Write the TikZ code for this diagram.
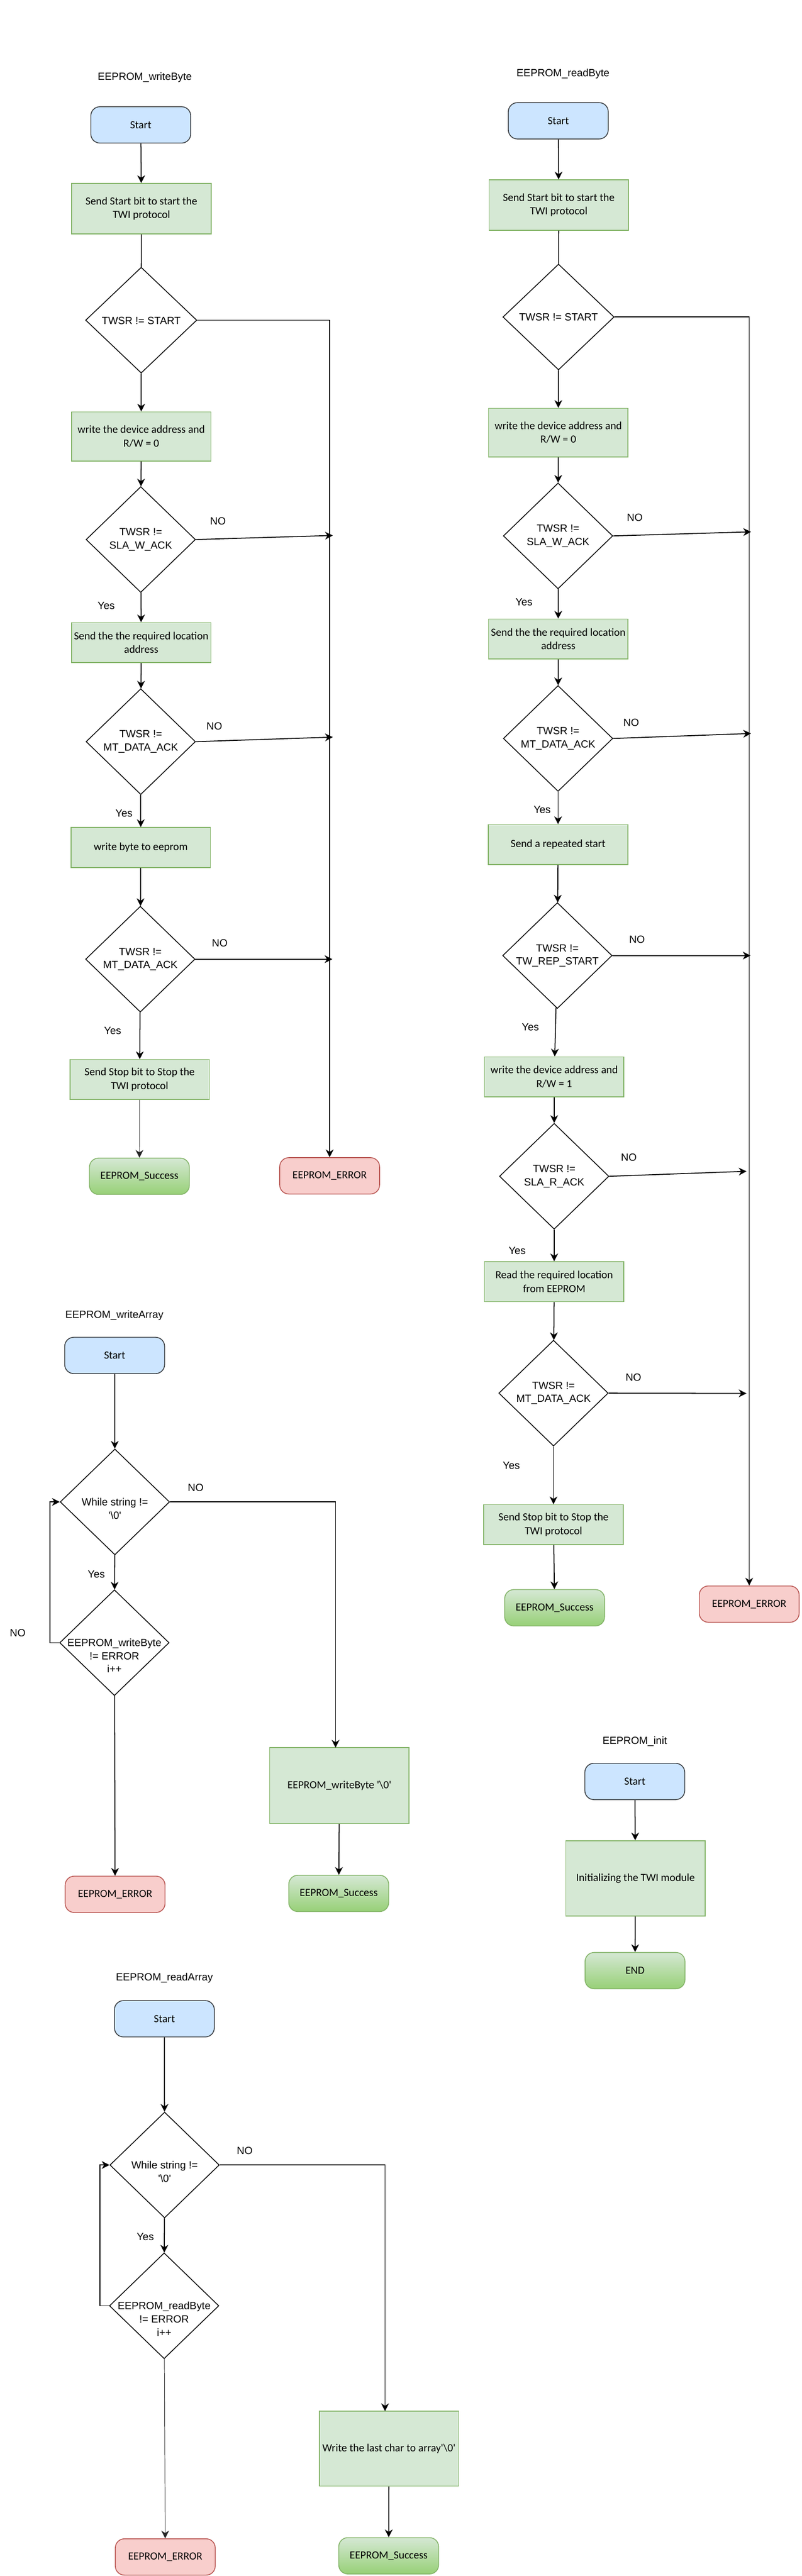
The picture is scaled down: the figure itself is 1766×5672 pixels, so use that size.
\documentclass[tikz,border=0pt]{standalone}
\usepackage{fontspec}
\setmainfont{Liberation Sans}
\newfontfamily\boxfont{Carlito}
\usetikzlibrary{shapes.geometric,arrows.meta}
\definecolor{startfill}{HTML}{CCE5FF}
\definecolor{startdraw}{HTML}{36393D}
\definecolor{procfill}{HTML}{D5E8D4}
\definecolor{procdraw}{HTML}{82B366}
\definecolor{oktop}{HTML}{D5E8D4}
\definecolor{okbot}{HTML}{97D077}
\definecolor{errfill}{HTML}{F8CECC}
\definecolor{errdraw}{HTML}{B85450}
\tikzset{
  term/.style={rounded corners=10pt, minimum width=110pt, minimum height=40pt, inner sep=0pt, line width=0.9pt, font=\boxfont\fontsize{12}{15}\selectfont},
  startT/.style={term, fill=startfill, draw=startdraw},
  okT/.style={term, top color=oktop, bottom color=okbot, draw=procdraw},
  errT/.style={term, fill=errfill, draw=errdraw},
  proc/.style={rectangle, draw=procdraw, fill=procfill, line width=0.9pt, minimum width=153.5pt, minimum height=44pt, inner sep=0pt, align=center, font=\boxfont\fontsize{12}{15}\selectfont},
  dec/.style={diamond, draw=black, line width=0.9pt, minimum width=120.5pt, minimum height=116.5pt, inner sep=0pt},
  lbl/.style={font=\fontsize{11.5}{15}\selectfont, align=center, inner sep=0pt},
  dlbl/.style={font=\fontsize{11.5}{14.5}\selectfont, align=center, inner sep=0pt},
  ln/.style={line width=1pt, draw=black},
  arr/.style={ln, -{Stealth[length=8.5pt,width=8.5pt,inset=2.6pt]}},
  tarr/.style={line width=0.55pt, draw=black!85, -{Stealth[length=8.5pt,width=8.5pt,inset=2.6pt]}},
}
\begin{document}
\begin{tikzpicture}[x=0.5pt,y=-0.5pt]
\path[use as bounding box, fill=white] (0,0) rectangle (1766,5672);

% ================= EEPROM_writeByte =================
\node[lbl] (wbT) at (319,170) {EEPROM\_writeByte};
\node[startT] (wbS) at (310,275) {Start};
\node[proc, minimum height=55.5pt] (wb1) at (311.5,459.5) {Send Start bit to start the\\TWI protocol};
\node[dec, minimum width=122.5pt] (wbd1) at (311,705) {};
\node[dlbl] (wbd1t) at (311,706) {TWSR != START};
\node[proc, minimum height=54pt] (wb2) at (311,961) {write the device address and\\R/W = 0};
\node[dec] (wbd2) at (310,1188) {};
\node[dlbl] (wbd2t) at (310,1188) {TWSR !=\\SLA\_W\_ACK};
\node[proc] (wb3) at (311,1415) {Send the the required location\\address};
\node[dec] (wbd3) at (310,1633) {};
\node[dlbl] (wbd3t) at (310,1633) {TWSR !=\\MT\_DATA\_ACK};
\node[proc] (wb4) at (310,1866) {write byte to eeprom};
\node[dec] (wbd4) at (309,2112) {};
\node[dlbl] (wbd4t) at (309,2112) {TWSR !=\\MT\_DATA\_ACK};
\node[proc] (wb5) at (307.5,2377) {Send Stop bit to Stop the\\TWI protocol};
\node[okT] (wbok) at (307,2590) {EEPROM\_Success};
\node[errT] (wberr) at (726,2589) {EEPROM\_ERROR};

\node[lbl] (wbn2) at (480,1147) {NO};
\node[lbl] (wbn3) at (472,1599) {NO};
\node[lbl] (wbn4) at (484,2077) {NO};
\node[lbl] (wby2) at (234,1334) {Yes};
\node[lbl] (wby3) at (273,1791) {Yes};
\node[lbl] (wby4) at (248,2269) {Yes};

\coordinate (wbe2) at (733,1179);
\coordinate (wbe3) at (733,1623);
\coordinate (wbe4) at (732,2112);

\draw[arr] (wbS) -- (wb1);
\draw[ln] (wb1) -- (wbd1);
\draw[arr] (wbd1) -- (wb2);
\draw[arr] (wb2) -- (wbd2);
\draw[arr] (wbd2) -- (wb3);
\draw[arr] (wb3) -- (wbd3);
\draw[arr] (wbd3) -- (wb4);
\draw[arr] (wb4) -- (wbd4);
\draw[arr] (wbd4) -- (wb5);
\draw[tarr] (wb5) -- (wbok);
\draw[arr] (wbd1.east) -| (wberr.north);
\draw[arr] (wbd2.east) -- (wbe2);
\draw[arr] (wbd3.east) -- (wbe3);
\draw[arr] (wbd4.east) -- (wbe4);

% ================= EEPROM_readByte =================
\node[lbl] (rbT) at (1240,162) {EEPROM\_readByte};
\node[startT] (rbS) at (1229.5,266) {Start};
\node[proc, minimum height=55.5pt] (rb1) at (1230.5,451.5) {Send Start bit to start the\\TWI protocol};
\node[dec, minimum width=122.5pt] (rbd1) at (1230,698) {};
\node[dlbl] (rbd1t) at (1230,698) {TWSR != START};
\node[proc, minimum height=53.5pt] (rb2) at (1229.5,952.5) {write the device address and\\R/W = 0};
\node[dec] (rbd2) at (1229,1180) {};
\node[dlbl] (rbd2t) at (1229,1180) {TWSR !=\\SLA\_W\_ACK};
\node[proc] (rb3) at (1229.5,1407) {Send the the required location\\address};
\node[dec] (rbd3) at (1229,1626) {};
\node[dlbl] (rbd3t) at (1229,1626) {TWSR !=\\MT\_DATA\_ACK};
\node[proc] (rb4) at (1229,1859.5) {Send a repeated start};
\node[dec] (rbd4) at (1227.5,2104) {};
\node[dlbl] (rbd4t) at (1227.5,2104) {TWSR !=\\TW\_REP\_START};
\node[proc] (rb5) at (1220.5,2371) {write the device address and\\R/W = 1};
\node[dec] (rbd5) at (1220.5,2590) {};
\node[dlbl] (rbd5t) at (1220.5,2590) {TWSR !=\\SLA\_R\_ACK};
\node[proc] (rb6) at (1220.5,2822) {Read the required location\\from EEPROM};
\node[dec] (rbd6) at (1219,3067.5) {};
\node[dlbl] (rbd6t) at (1219,3067.5) {TWSR !=\\MT\_DATA\_ACK};
\node[proc] (rb7) at (1219,3357) {Send Stop bit to Stop the\\TWI protocol};
\node[okT] (rbok) at (1221.5,3540) {EEPROM\_Success};
\node[errT] (rberr) at (1650,3532) {EEPROM\_ERROR};

\node[lbl] (rbn2) at (1398,1140) {NO};
\node[lbl] (rbn3) at (1390,1591) {NO};
\node[lbl] (rbn4) at (1403,2069) {NO};
\node[lbl] (rbn5) at (1385,2548) {NO};
\node[lbl] (rbn6) at (1395,3033) {NO};
\node[lbl] (rby2) at (1154,1326) {Yes};
\node[lbl] (rby3) at (1194,1783) {Yes};
\node[lbl] (rby4) at (1168,2262) {Yes};
\node[lbl] (rby5) at (1139,2754) {Yes};
\node[lbl] (rby6) at (1126,3227) {Yes};

\coordinate (rbe2) at (1654,1171);
\coordinate (rbe3) at (1654,1615);
\coordinate (rbe4) at (1653,2104);
\coordinate (rbe5) at (1644,2579);
\coordinate (rbe6) at (1644,3068);

\draw[arr] (rbS) -- (rb1);
\draw[ln] (rb1) -- (rbd1);
\draw[arr] (rbd1) -- (rb2);
\draw[arr] (rb2) -- (rbd2);
\draw[arr] (rbd2) -- (rb3);
\draw[arr] (rb3) -- (rbd3);
\draw[arr] (rbd3) -- (rb4);
\draw[arr] (rb4) -- (rbd4);
\draw[arr] (rbd4) -- (rb5);
\draw[arr] (rb5) -- (rbd5);
\draw[arr] (rbd5) -- (rb6);
\draw[arr] (rb6) -- (rbd6);
\draw[arr] (rbd6) -- (rb7);
\draw[arr] (rb7) -- (rbok);
\draw[arr] (rbd1.east) -| (rberr.north);
\draw[arr] (rbd2.east) -- (rbe2);
\draw[arr] (rbd3.east) -- (rbe3);
\draw[arr] (rbd4.east) -- (rbe4);
\draw[arr] (rbd5.east) -- (rbe5);
\draw[arr] (rbd6.east) -- (rbe6);

% ================= EEPROM_writeArray =================
\node[lbl] (waT) at (252,2896) {EEPROM\_writeArray};
\node[startT] (waS) at (252.5,2984.5) {Start};
\node[dec] (wad1) at (253,3307) {};
\node[dlbl] (wad1t) at (253,3322) {While string !=\\\textquotesingle\textbackslash 0\textquotesingle};
\node[dec] (wad2) at (252,3617) {};
\node[dlbl] (wad2t) at (252,3646) {EEPROM\_writeByte\\!= ERROR\\i++};
\node[errT] (waerr) at (253.5,4171) {EEPROM\_ERROR};
\node[proc, minimum height=83.5pt] (wab) at (747.5,3931.5) {EEPROM\_writeByte \textquotesingle\textbackslash 0\textquotesingle};
\node[okT] (waok) at (746,4169) {EEPROM\_Success};

\node[lbl] (wan1) at (431,3275) {NO};
\node[lbl] (way1) at (212,3466) {Yes};
\node[lbl] (wan2) at (39,3595) {NO};

\coordinate (waloop) at (110,3617);
\coordinate (wabin) at (739,3848);

\draw[arr] (waS) -- (wad1);
\draw[arr] (wad1) -- (wad2);
\draw[arr] (wad2.west) -- (waloop) |- (wad1.west);
\draw[arr] (wad2) -- (waerr);
\draw[arr] (wad1.east) -| (wabin);
\draw[arr] (wab) -- (waok);

% ================= EEPROM_init =================
\node[lbl] (inT) at (1398,3834) {EEPROM\_init};
\node[startT] (inS) at (1398,3922.5) {Start};
\node[proc, minimum height=83pt] (inb) at (1399.5,4136) {Initializing the TWI module};
\node[okT] (inend) at (1398.5,4339) {END};
\draw[arr] (inS) -- (inb);
\draw[arr] (inb) -- (inend);

% ================= EEPROM_readArray =================
\node[lbl] (raT) at (362,4355) {EEPROM\_readArray};
\node[startT] (raS) at (362,4445) {Start};
\node[dec] (rad1) at (362.5,4767) {};
\node[dlbl] (rad1t) at (362.5,4782) {While string !=\\\textquotesingle\textbackslash 0\textquotesingle};
\node[dec] (rad2) at (361.5,5077) {};
\node[dlbl] (rad2t) at (361.5,5106) {EEPROM\_readByte\\!= ERROR\\i++};
\node[errT] (raerr) at (364,5630) {EEPROM\_ERROR};
\node[proc, minimum height=82.5pt] (rab) at (856.5,5391.5) {Write the last char to array\textquotesingle\textbackslash 0\textquotesingle};
\node[okT] (raok) at (856,5627.5) {EEPROM\_Success};

\node[lbl] (ran1) at (539,4735) {NO};
\node[lbl] (ray1) at (320,4925) {Yes};

\coordinate (raloop) at (220,5077);
\coordinate (rabin) at (848,5309);

\draw[arr] (raS) -- (rad1);
\draw[arr] (rad1) -- (rad2);
\draw[arr] (rad2.west) -- (raloop) |- (rad1.west);
\draw[tarr] (rad2) -- (raerr);
\draw[arr] (rad1.east) -| (rabin);
\draw[arr] (rab) -- (raok);
\end{tikzpicture}
\end{document}
